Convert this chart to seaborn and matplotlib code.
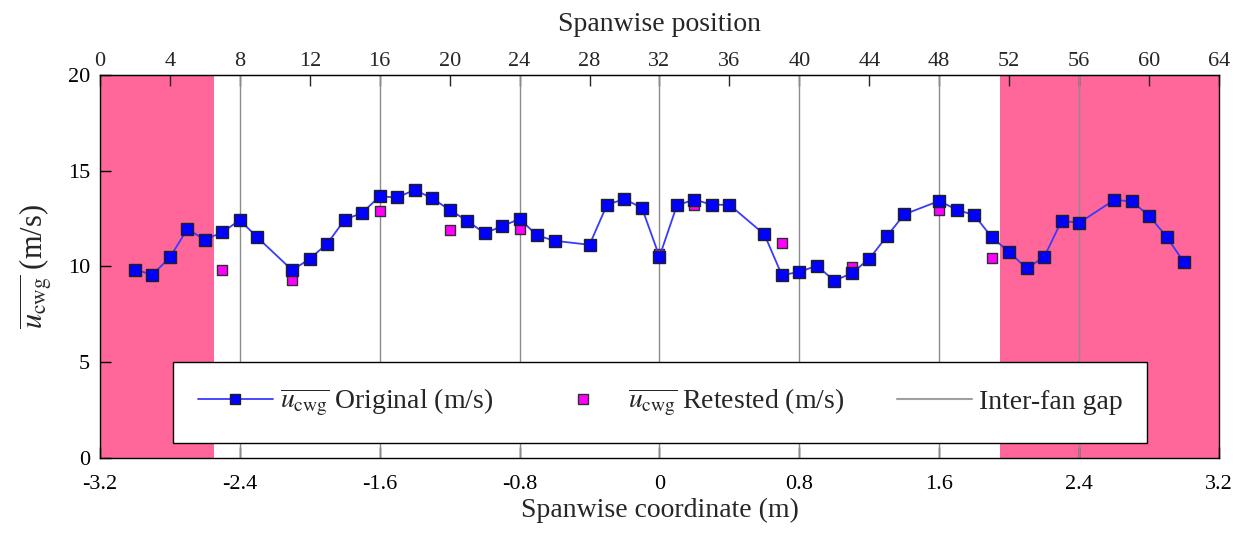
import numpy as np
import pandas as pd
import matplotlib
matplotlib.use("Agg")
import matplotlib.pyplot as plt
import seaborn as sns
from matplotlib.lines import Line2D

# ---- data ----
orig_pos = [2, 3, 4, 5, 6, 7, 8, 9, 11, 12, 13, 14, 15, 16, 17, 18, 19, 20, 21, 22,
            23, 24, 25, 26, 28, 29, 30, 31, 32, 33, 34, 35, 36, 38, 39, 40, 41, 42,
            43, 44, 45, 46, 48, 49, 50, 51, 52, 53, 54, 55, 56, 58, 59, 60, 61, 62]
orig_val = [9.83, 9.57, 10.47, 11.95, 11.40, 11.78, 12.42, 11.52, 9.80, 10.40,
            11.19, 12.44, 12.80, 13.66, 13.60, 14.00, 13.56, 12.95, 12.39, 11.73,
            12.10, 12.48, 11.62, 11.34, 11.13, 13.22, 13.52, 13.05, 10.51, 13.19,
            13.49, 13.22, 13.22, 11.67, 9.55, 9.71, 10.04, 9.25, 9.65, 10.40,
            11.57, 12.72, 13.42, 12.96, 12.68, 11.53, 10.75, 9.90, 10.49, 12.39,
            12.27, 13.47, 13.40, 12.65, 11.55, 10.21]
retest_pos = [7, 11, 16, 20, 24, 32, 34, 39, 43, 48, 51]
retest_val = [9.80, 9.29, 12.91, 11.92, 11.97, 10.65, 13.19, 11.22, 9.97, 12.96, 10.42]
gap_pos = [8, 16, 24, 32, 40, 48, 56]
shade_spans = [(-3.2, -2.55), (1.95, 3.2)]
bottom_ticks = [-3.2, -2.4, -1.6, -0.8, 0, 0.8, 1.6, 2.4, 3.2]
bottom_labels = ["-3.2", "-2.4", "-1.6", "-0.8", "0", "0.8", "1.6", "2.4", "3.2"]
top_ticks = list(range(0, 65, 4))
y_ticks = [0, 5, 10, 15, 20]

def pos2m(p):
    return (np.asarray(p, dtype=float) - 32) * 0.1

def m2pos(x):
    return np.asarray(x, dtype=float) / 0.1 + 32

df_o = pd.DataFrame({"x": pos2m(orig_pos), "u": orig_val})
df_r = pd.DataFrame({"x": pos2m(retest_pos), "u": retest_val})

sns.set_style("ticks")
plt.rcParams["font.family"] = ["Liberation Serif", "DejaVu Serif"]
plt.rcParams["mathtext.fontset"] = "stix"

fig = plt.figure(figsize=(12.49, 5.35), dpi=100)
ax = fig.add_axes([0.080, 0.144, 0.896, 0.716])

for a, b in shade_spans:
    ax.axvspan(a, b, color="#FF6699", lw=0, zorder=0)
for g in gap_pos:
    ax.axvline(pos2m(g), color="#8c8c8c", lw=1.0, zorder=1)

sns.lineplot(data=df_o, x="x", y="u", ax=ax, color="#3a3aff", lw=1.3,
             marker="s", markersize=8.5, markerfacecolor="#0000ff",
             markeredgecolor="#202020", markeredgewidth=1.0, zorder=4,
             legend=False, estimator=None, sort=False)
sns.scatterplot(data=df_r, x="x", y="u", ax=ax, color="#ff00ff", marker="s",
                s=62, edgecolor="#303030", linewidth=1.0, zorder=3, legend=False)

ax.set_xlim(-3.2, 3.2)
ax.set_ylim(0, 20)
ax.set_xticks(bottom_ticks)
ax.set_xticklabels(bottom_labels)
ax.set_yticks(y_ticks)
ax.tick_params(axis="both", direction="in", length=8, width=1, labelsize=16,
               colors="black", right=False, top=False)
ax.tick_params(axis="x", pad=12)
ax.tick_params(axis="y", pad=7)
for s in ax.spines.values():
    s.set_visible(True)
    s.set_color("black")
    s.set_linewidth(1.0)

ax.set_xlabel("Spanwise coordinate (m)", fontsize=20, labelpad=3)
ax.set_ylabel(r"$\overline{u_{\mathrm{cwg}}}$ (m/s)", fontsize=22, labelpad=10)

sec = ax.secondary_xaxis("top", functions=(m2pos, pos2m))
sec.set_xticks(top_ticks)
sec.tick_params(direction="in", length=8, width=1, labelsize=16, pad=3)
sec.set_xlabel("Spanwise position", fontsize=20, labelpad=15)

handles = [
    Line2D([], [], color="#3a3aff", lw=1.3, marker="s", markersize=7.5,
           markerfacecolor="#0000ff", markeredgecolor="#202020"),
    Line2D([], [], lw=0, marker="s", markersize=7.5, markerfacecolor="#ff00ff",
           markeredgecolor="#303030"),
    Line2D([], [], color="#a0a0a0", lw=1.5),
]
labels = [r"$\overline{u_{\mathrm{cwg}}}$ Original (m/s)",
          r"$\overline{u_{\mathrm{cwg}}}$ Retested (m/s)",
          "Inter-fan gap"]
leg = ax.legend(handles, labels, ncol=3, mode="expand",
                bbox_to_anchor=(0.065, 0.039, 0.871, 0.204),
                loc="lower left", fontsize=20, frameon=True, fancybox=False,
                edgecolor="black", framealpha=1, borderaxespad=0,
                handlelength=2.7, handletextpad=0.25, borderpad=0.9)
leg.get_frame().set_linewidth(1.0)
leg.set_zorder(10)

fig.savefig("out.png", dpi=100)
